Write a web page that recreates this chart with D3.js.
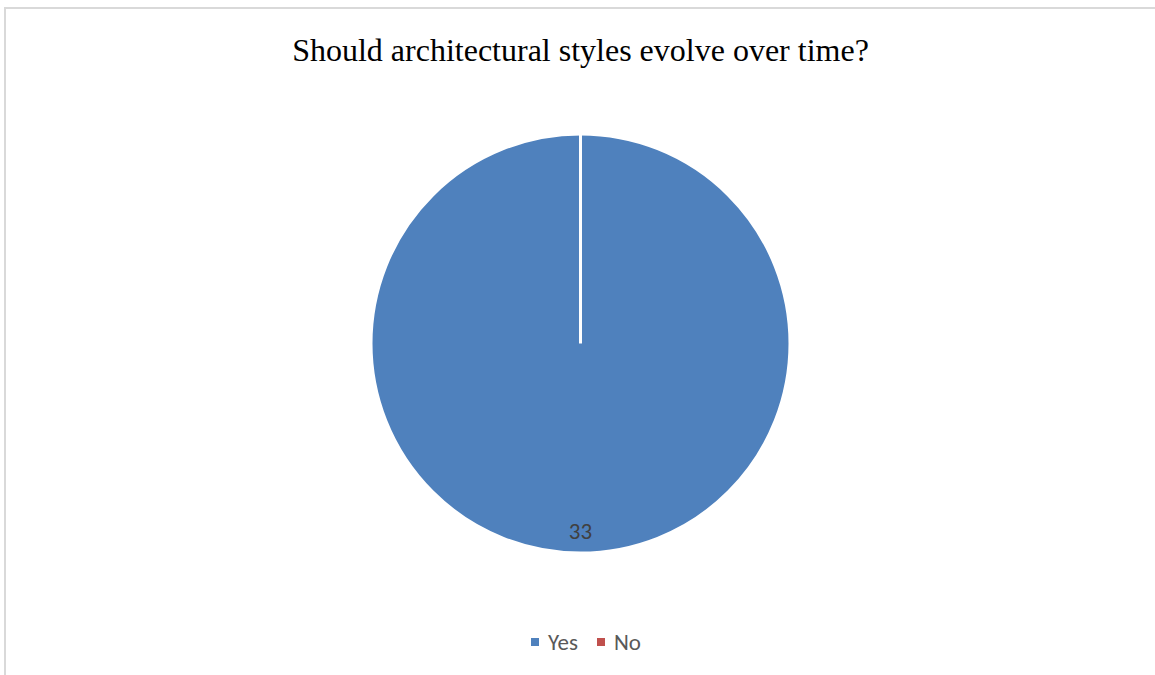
<!DOCTYPE html>
<html>
<head>
<meta charset="UTF-8">
<title>Should architectural styles evolve over time?</title>
<script src="https://d3js.org/d3.v7.min.js"></script>
<style>
	body { margin: 0; background: #fff; }
</style>
</head>
<body>
	<div id="chart"></div>
	<script type="text/javascript">
		// data
		let categories = ["Yes", "No"];
		let values = [33, 0];
		let colors = ["#4f81bd", "#c0504d"];
		let title = "Should architectural styles evolve over time?";

		let width = 1155, height = 675;
		let cx = 580.5, cy = 343.5, radius = 209.5;

		let svg = d3.select("#chart")
			.append("svg")
			.attr("width", width)
			.attr("height", height);

		// chart frame (runs off right and bottom edge)
		svg.append("rect")
			.attr("x", 5)
			.attr("y", 8)
			.attr("width", width + 20)
			.attr("height", height + 20)
			.attr("fill", "none")
			.attr("stroke", "#d9d9d9")
			.attr("stroke-width", 2);

		svg.append("text")
			.attr("x", cx)
			.attr("y", 61)
			.attr("text-anchor", "middle")
			.attr("font-family", "'Liberation Serif', 'Times New Roman', serif")
			.attr("font-size", 32)
			.attr("fill", "#000")
			.text(title);

		let data = categories.map((c, i) => ({ name: c, value: values[i], color: colors[i] }));

		let pie = d3.pie()
			.sort(null)
			.value(d => d.value);

		let arc = d3.arc()
			.innerRadius(0)
			.outerRadius(radius);

		let labelArc = d3.arc()
			.innerRadius(radius * 0.895)
			.outerRadius(radius * 0.895);

		let g = svg.append("g")
			.attr("transform", `translate(${cx},${cy})`);

		let arcs = pie(data);

		g.selectAll("path")
			.data(arcs)
			.join("path")
			.attr("d", arc)
			.attr("fill", d => d.data.color)
			.attr("stroke", "#fff")
			.attr("stroke-width", 3)
			.attr("stroke-linejoin", "miter");

		// data labels (only non-zero slices)
		g.selectAll("text.label")
			.data(arcs.filter(d => d.value > 0))
			.join("text")
			.attr("class", "label")
			.attr("transform", d => `translate(${labelArc.centroid(d)})`)
			.attr("text-anchor", "middle")
			.attr("dy", "0.35em")
			.attr("font-family", "Carlito, Calibri, 'Open Sans', sans-serif")
			.attr("font-size", 23)
			.attr("fill", "#404040")
			.text(d => d.value);

		// legend
		let legend = svg.append("g")
			.attr("transform", "translate(531,642)");

		let legendX = [0, 66];

		let items = legend.selectAll("g")
			.data(data)
			.join("g")
			.attr("transform", (d, i) => `translate(${legendX[i]},0)`);

		items.append("rect")
			.attr("x", 0)
			.attr("y", -4)
			.attr("width", 8)
			.attr("height", 8)
			.attr("fill", d => d.color);

		items.append("text")
			.attr("x", 17)
			.attr("y", 0)
			.attr("dy", "0.35em")
			.attr("font-family", "Carlito, Calibri, 'Open Sans', sans-serif")
			.attr("font-size", 23)
			.attr("fill", "#595959")
			.text(d => d.name);
	</script>
</body>
</html>
